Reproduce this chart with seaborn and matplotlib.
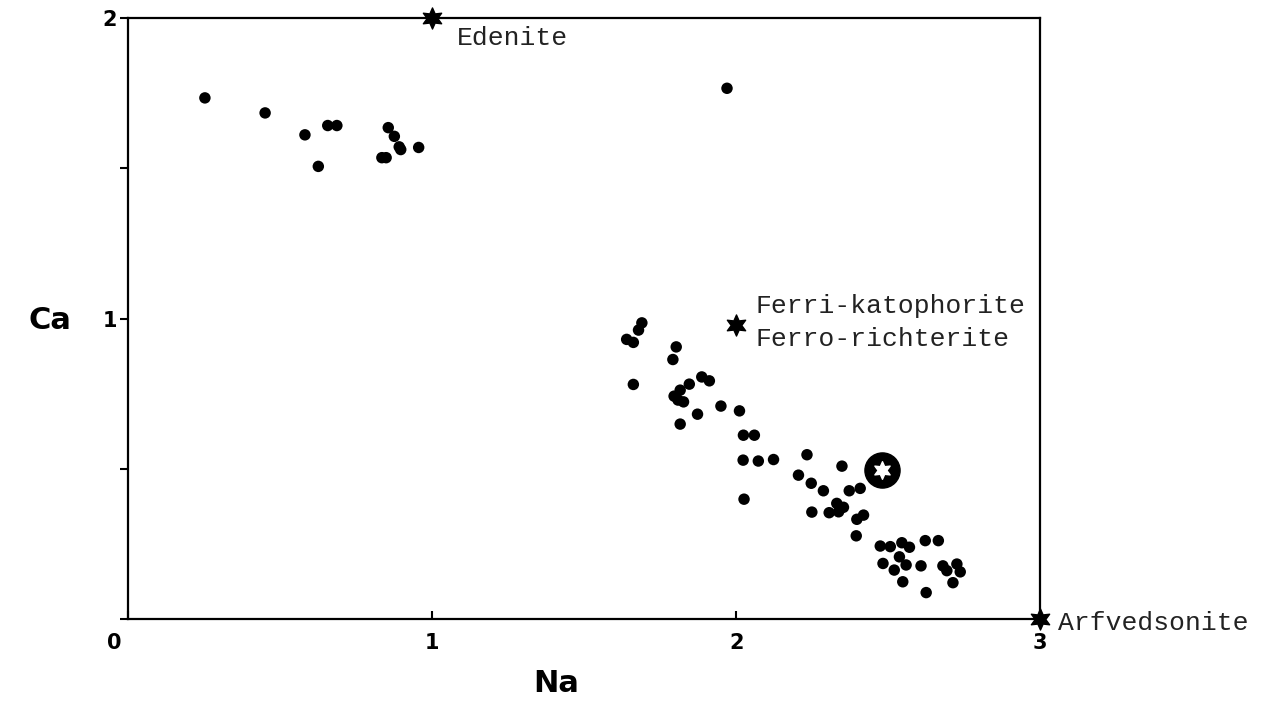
import matplotlib
matplotlib.use('Agg')
import matplotlib.pyplot as plt
import matplotlib.transforms as mtransforms
import seaborn as sns
import pandas as pd

# Analysed amphiboles (Na, Ca per formula unit)
na = [0.253, 0.451, 0.582, 0.657, 0.687, 0.626, 0.856, 0.876, 0.892, 0.897, 0.835, 0.849, 0.956,
      1.970,
      1.690, 1.679, 1.640, 1.662, 1.803, 1.792, 1.662, 1.887, 1.912, 1.846, 1.816, 1.796, 1.827,
      1.809, 1.950, 2.011, 1.873, 1.816, 2.024, 2.060, 2.023, 2.073, 2.123, 2.233, 2.026,
      2.348, 2.205, 2.247, 2.287, 2.372, 2.408, 2.331, 2.353, 2.306, 2.337, 2.249, 2.397, 2.419,
      2.395, 2.474, 2.507, 2.545, 2.570, 2.622, 2.665, 2.537, 2.483, 2.520, 2.559, 2.608, 2.680,
      2.693, 2.726, 2.737, 2.713, 2.548, 2.625]
ca = [1.735, 1.685, 1.612, 1.643, 1.643, 1.507, 1.636, 1.607, 1.572, 1.563, 1.536, 1.536, 1.570,
      1.767,
      0.986, 0.962, 0.931, 0.921, 0.906, 0.864, 0.781, 0.806, 0.793, 0.782, 0.762, 0.742, 0.723,
      0.729, 0.709, 0.693, 0.682, 0.649, 0.612, 0.612, 0.529, 0.526, 0.531, 0.547, 0.399,
      0.509, 0.479, 0.452, 0.427, 0.427, 0.435, 0.385, 0.372, 0.354, 0.357, 0.356, 0.332, 0.346,
      0.277, 0.243, 0.241, 0.254, 0.239, 0.261, 0.261, 0.207, 0.185, 0.163, 0.180, 0.177, 0.177,
      0.161, 0.183, 0.157, 0.121, 0.124, 0.088]

# End-member compositions
end_names = ['Edenite', 'Ferri-katophorite\nFerro-richterite', 'Arfvedsonite']
end_na = [1.0, 2.0, 3.0]
end_ca = [2.0, 0.98, 0.0]

# Highlighted sample (circled star)
special_na = [2.48]
special_ca = [0.496]

x_ticks = [0, 1, 2, 3]
x_labels = ['0', '1', '2', '3']
y_ticks = [0, 0.5, 1, 1.5, 2]
y_labels = ['', '', '1', '', '2']

sns.set_style('white')
plt.rcParams['font.family'] = ['DejaVu Sans']

fig = plt.figure(figsize=(12.67, 7.04), dpi=100)
ax = fig.add_axes([0.101, 0.1207, 0.720, 0.8533])

df = pd.DataFrame({'Na': na, 'Ca': ca})
sns.scatterplot(data=df, x='Na', y='Ca', ax=ax, color='black', s=68, edgecolor='none', zorder=3)

# big circled star
ax.scatter(special_na, special_ca, s=640, color='black', zorder=4)
ax.scatter(special_na, special_ca, s=160, marker=(6, 1, 0), color='white', zorder=5)

# end-member stars
ax.scatter(end_na, end_ca, s=230, marker=(6, 1, 0), color='black', zorder=6, clip_on=False)

offsets = [(18, -14.5), (14, 1.5), (12.5, -3)]
for name, xv, yv, off in zip(end_names, end_na, end_ca, offsets):
    ax.annotate(name, xy=(xv, yv), xytext=off, textcoords='offset points',
                ha='left', va='center', family='Liberation Mono', fontsize=19,
                linespacing=1.45, color='#222222', annotation_clip=False)

ax.set_xlim(0, 3)
ax.set_ylim(0, 2)

for sp in ax.spines.values():
    sp.set_visible(True)
    sp.set_linewidth(1.6)
    sp.set_color('black')

ax.set_xticks(x_ticks)
ax.set_xticklabels(x_labels, fontsize=15, fontweight='bold', color='black')
ax.tick_params(axis='x', bottom=True, direction='in', length=6, width=1.5, pad=10, colors='black')
zero_lab = ax.xaxis.get_majorticklabels()[0]
zero_lab.set_ha('right')
zero_lab.set_transform(zero_lab.get_transform() +
                       mtransforms.ScaledTranslation(-6 / 100, 0, fig.dpi_scale_trans))
ax.set_yticks(y_ticks)
ax.set_yticklabels(y_labels, fontsize=15, fontweight='bold', color='black')
ax.tick_params(axis='y', left=True, direction='out', length=6, width=1.5, pad=2, colors='black')

ax.set_xlabel('Na', fontsize=22, fontweight='bold', color='black', va='center')
ax.xaxis.set_label_coords(0.469, -0.107)
ax.set_ylabel('Ca', fontsize=22, fontweight='bold', color='black', rotation=0,
              va='center', ha='center')
ax.yaxis.set_label_coords(-0.086, 0.497)

fig.savefig('out.png', dpi=100, facecolor='white')
